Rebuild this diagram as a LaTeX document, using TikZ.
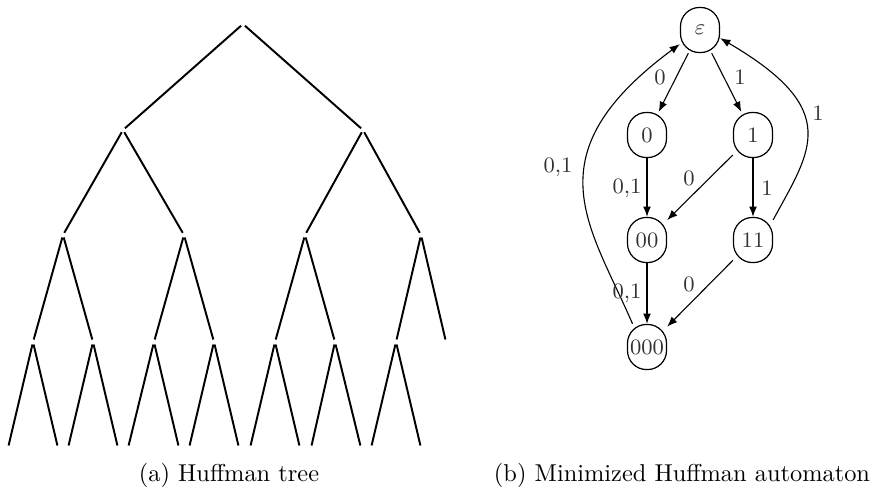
\documentclass[tikz,border=0pt]{standalone}
\usetikzlibrary{arrows.meta}
\begin{document}
\begin{tikzpicture}[x=0.41pt,y=-0.41pt,
  tn/.style={circle,inner sep=0pt,minimum size=1.7pt},
  tedge/.style={line width=0.8pt},
  state/.style={draw,line width=0.5pt,rounded corners=7.8pt,minimum width=16pt,
    minimum height=18.5pt,inner sep=0.6pt,font=\small,text=black!80},
  aedge/.style={line width=0.45pt,-{Latex[length=4.2pt,width=3.2pt]}},
  lab/.style={font=\small,text=black!80,inner sep=1pt},
  captext/.style={font=\normalsize}]
\useasboundingbox (0,0) rectangle (875,492);

% ---------- Huffman tree ----------
\node[tn] (r)   at (243,24) {};
\node[tn] (a)   at (123,130) {};
\node[tn] (b)   at (363,130) {};
\node[tn] (aa)  at (63,235) {};
\node[tn] (ab)  at (184,235) {};
\node[tn] (ba)  at (305,235) {};
\node[tn] (bb)  at (421,235) {};
\node[tn] (aaa) at (33,342) {};
\node[tn] (aab) at (93,342) {};
\node[tn] (aba) at (154,342) {};
\node[tn] (abb) at (214,342) {};
\node[tn] (baa) at (275,342) {};
\node[tn] (bab) at (335,342) {};
\node[tn] (bba) at (396,342) {};
\node[tn] (bbb) at (446,342) {};
\foreach \p/\l/\r/\i in {aaa/8/58/1,aab/68/118/2,aba/128/179/3,abb/189/239/4,
                         baa/250/300/5,bab/311/361/6,bba/371/421/7}{
  \node[tn] (lf\i l) at (\l,448) {};
  \node[tn] (lf\i r) at (\r,448) {};
  \draw[tedge] (\p) -- (lf\i l);
  \draw[tedge] (\p) -- (lf\i r);
}
\draw[tedge] (r) -- (a);  \draw[tedge] (r) -- (b);
\draw[tedge] (a) -- (aa); \draw[tedge] (a) -- (ab);
\draw[tedge] (b) -- (ba); \draw[tedge] (b) -- (bb);
\draw[tedge] (aa) -- (aaa); \draw[tedge] (aa) -- (aab);
\draw[tedge] (ab) -- (aba); \draw[tedge] (ab) -- (abb);
\draw[tedge] (ba) -- (baa); \draw[tedge] (ba) -- (bab);
\draw[tedge] (bb) -- (bba); \draw[tedge] (bb) -- (bbb);

% ---------- Minimized automaton ----------
\node[state] (e)    at (700,30)  {$\varepsilon$};
\node[state] (s0)   at (647,135) {0};
\node[state] (s1)   at (753,135) {1};
\node[state] (s00)  at (647,240) {00};
\node[state] (s11)  at (753,240) {11};
\node[state] (s000) at (647,347) {000};

\draw[aedge] (e) -- (s0);
\draw[aedge] (e) -- (s1);
\draw[aedge] (s0) -- (s00);
\draw[aedge] (s1) -- (s00);
\draw[aedge] (s1) -- (s11);
\draw[aedge] (s00) -- (s000);
\draw[aedge] (s11) -- (s000);
\draw[aedge] (s000.122) .. controls (590,225) and (530,155) .. (e.215);
\draw[aedge] (s11.45) .. controls (811,150) and (843,110) .. (e.-22);

\node[lab] (l1) at (660,77)  {0};
\node[lab] (l2) at (740,77)  {1};
\node[lab] (l3) at (627,188) {0,1};
\node[lab] (l4) at (689,178) {0};
\node[lab] (l5) at (767,188) {1};
\node[lab] (l6) at (627,293) {0,1};
\node[lab] (l7) at (689,284) {0};
\node[lab] (l8) at (558,167) {0,1};
\node[lab] (l9) at (818,113) {1};

% ---------- captions ----------
\node[captext] (capa) at (229,475) {(a) Huffman tree};
\node[captext] (capb) at (682,475) {(b) Minimized Huffman automaton};
\end{tikzpicture}
\end{document}
